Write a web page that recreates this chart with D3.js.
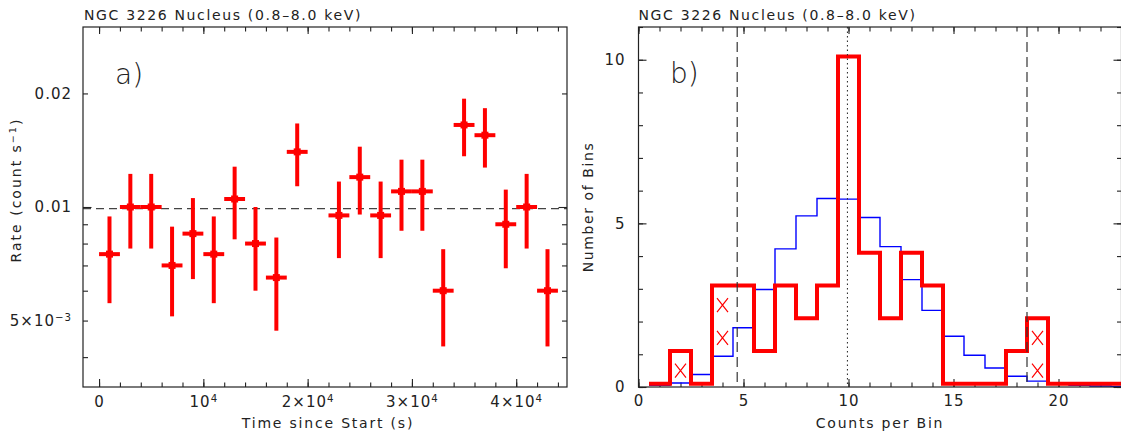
<!DOCTYPE html>
<html>
<head>
<meta charset="utf-8">
<script src="https://cdn.jsdelivr.net/npm/d3@7"></script>
<style>
  body { margin: 0; background: #fff; }
  svg text { font-family: "DejaVu Sans", sans-serif; fill: #222; }
</style>
</head>
<body>
<svg id="chart" width="1121" height="437"></svg>
<script>
// ---- data: light curve (2 ks bins) ----
const binTime = [1000, 3000, 5000, 7000, 9000, 11000, 13000, 15000, 17000, 19000,
                 23000, 25000, 27000, 29000, 31000, 33000, 35000, 37000, 39000, 41000, 43000];
const rate = [0.0075, 0.0100, 0.0100, 0.0070, 0.0085, 0.0075, 0.0105, 0.0080, 0.0065, 0.0140,
              0.0095, 0.0120, 0.0095, 0.0110, 0.0110, 0.0060, 0.0165, 0.0155, 0.0090, 0.0100, 0.0060];
const rateErr = [0.00194, 0.00224, 0.00224, 0.00187, 0.00206, 0.00194, 0.00229, 0.00200, 0.00180, 0.00265,
                 0.00218, 0.00245, 0.00218, 0.00235, 0.00235, 0.00173, 0.00287, 0.00278, 0.00212, 0.00224, 0.00173];
const binHalfWidth = 1000;
const meanRate = 0.0099;

// ---- data: histogram of counts per bin ----
const countsPerBin = [1, 2, 3, 4, 5, 6, 7, 8, 9, 10, 11, 12, 13, 14, 15, 16, 17, 18, 19, 20, 21, 22, 23];
const observedBins = [0.1, 1.1, 0.1, 3.1, 3.1, 1.1, 3.1, 2.1, 3.1, 10.1, 4.1, 2.1,
                      4.1, 3.1, 0.1, 0.1, 0.1, 1.1, 2.1, 0.1, 0.1, 0.1, 0.1];
const expectedBins = [0.05, 0.12, 0.38, 0.94, 1.81, 2.98, 4.22, 5.23, 5.76, 5.74, 5.18, 4.29,
                      3.28, 2.34, 1.55, 0.97, 0.58, 0.33, 0.18, 0.10, 0.05, 0.03, 0.02];
const flagCounts = [2, 4, 4, 19, 19];
const flagLevels = [0.5, 1.5, 2.5, 0.5, 1.5];
const limitLines = [4.7, 18.5];
const meanCounts = 9.95;

const titleText = "NGC 3226 Nucleus (0.8\u20138.0 keV)";

const svg = d3.select("#chart");
const plotTop = 27, plotBottom = 387;
const RED = "#ff0000", BLUE = "#0000ff", INK = "#222";

// superscript helper for tick labels
function supText(sel, base, sup) {
  sel.text(null);
  sel.append("tspan").text(base);
  if (sup) sel.append("tspan").attr("dy", "-0.5em").attr("font-size", "0.68em").text(sup);
}

function inwardTicks(g, axisFn, scale, values, size) {
  g.call(axisFn(scale).tickValues(values).tickSize(-size).tickFormat(""))
    .call(s => s.select(".domain").remove())
    .call(s => s.selectAll("line").attr("stroke", INK).attr("stroke-width", 1.1));
}

// ================= panel a =================
const xa = d3.scaleLinear().domain([-1540, 44870]).range([83, 567]);
const ya = d3.scaleLog().domain([1 / 300, 0.03]).range([plotBottom, plotTop]);

const pa = svg.append("g");
pa.append("clipPath").attr("id", "clipA").append("rect")
  .attr("x", 83).attr("y", plotTop).attr("width", 484).attr("height", plotBottom - plotTop);

// ticks
const xaMinor = d3.range(0, 44001, 2000);
const xaMajor = [0, 10000, 20000, 30000, 40000];
inwardTicks(pa.append("g").attr("transform", `translate(0,${plotBottom})`), d3.axisBottom, xa, xaMinor, 4.5);
inwardTicks(pa.append("g").attr("transform", `translate(0,${plotTop})`), d3.axisTop, xa, xaMinor, 4.5);
inwardTicks(pa.append("g").attr("transform", `translate(0,${plotTop})`), d3.axisTop, xa, xaMajor, 7);
const xaLab = pa.append("g").attr("transform", `translate(0,${plotBottom})`)
  .call(d3.axisBottom(xa).tickValues(xaMajor).tickSize(-8).tickPadding(9.5));
xaLab.select(".domain").remove();
xaLab.selectAll("line").attr("stroke", INK).attr("stroke-width", 1.1);
xaLab.selectAll("text").attr("font-size", 15).attr("letter-spacing", "1px").attr("fill", INK)
  .each(function (d) {
    const s = d3.select(this);
    if (d === 0) supText(s, "0");
    else if (d === 10000) supText(s, "10", "4");
    else supText(s, (d / 10000) + "\u00d710", "4");
  });

const yaMinor = [0.004, 0.005, 0.006, 0.007, 0.008, 0.009, 0.02];
inwardTicks(pa.append("g").attr("transform", "translate(83,0)"), d3.axisLeft, ya, yaMinor, 5);
inwardTicks(pa.append("g").attr("transform", "translate(567,0)"), d3.axisRight, ya, yaMinor, 5);
inwardTicks(pa.append("g").attr("transform", "translate(83,0)"), d3.axisLeft, ya, [0.01], 8.5);
inwardTicks(pa.append("g").attr("transform", "translate(567,0)"), d3.axisRight, ya, [0.01], 8.5);
const yaLab = pa.append("g").attr("transform", "translate(83,0)")
  .call(d3.axisLeft(ya).tickValues([0.005, 0.01, 0.02]).tickSize(0).tickPadding(11));
yaLab.select(".domain").remove();
yaLab.selectAll("text").attr("font-size", 15).attr("letter-spacing", "1px").attr("fill", INK)
  .each(function (d) {
    const s = d3.select(this);
    if (d === 0.005) supText(s, "5\u00d710", "\u22123");
    else supText(s, d === 0.01 ? "0.01" : "0.02");
  });

// mean line
pa.append("line")
  .attr("x1", 83).attr("x2", 567).attr("y1", ya(meanRate)).attr("y2", ya(meanRate))
  .attr("stroke", "#444").attr("stroke-width", 1.2).attr("stroke-dasharray", "8,5");

// error bars
const pts = pa.append("g").attr("clip-path", "url(#clipA)")
  .selectAll("g").data(binTime.map((t, i) => ({ t, r: rate[i], e: rateErr[i] })))
  .enter().append("g");
pts.append("line")
  .attr("x1", d => xa(d.t)).attr("x2", d => xa(d.t))
  .attr("y1", d => ya(d.r - d.e)).attr("y2", d => ya(d.r + d.e))
  .attr("stroke", RED).attr("stroke-width", 4);
pts.append("line")
  .attr("x1", d => xa(d.t - binHalfWidth)).attr("x2", d => xa(d.t + binHalfWidth))
  .attr("y1", d => ya(d.r)).attr("y2", d => ya(d.r))
  .attr("stroke", RED).attr("stroke-width", 4);
pts.append("rect")
  .attr("x", d => xa(d.t) - 3.5).attr("y", d => ya(d.r) - 3.5)
  .attr("width", 7).attr("height", 7).attr("fill", RED);

pa.append("rect").attr("x", 83).attr("y", plotTop).attr("width", 484).attr("height", plotBottom - plotTop)
  .attr("fill", "none").attr("stroke", INK).attr("stroke-width", 1.2);

pa.append("text").attr("x", 84).attr("y", 20).attr("font-size", 14).attr("letter-spacing", "1.65px")
  .text(titleText);
pa.append("text").attr("x", 115).attr("y", 84).attr("font-size", 28).attr("font-weight", 200)
  .text("a)");
pa.append("text").attr("x", 328).attr("y", 428).attr("font-size", 14).attr("letter-spacing", "1.8px")
  .attr("text-anchor", "middle").text("Time since Start (s)");
const yTitle = pa.append("text").attr("transform", "translate(21,190) rotate(-90)")
  .attr("font-size", 14).attr("letter-spacing", "2px").attr("text-anchor", "middle");
yTitle.append("tspan").text("Rate (count s");
yTitle.append("tspan").attr("dy", "-0.5em").attr("font-size", "0.68em").text("\u22121");
yTitle.append("tspan").attr("dy", "0.34em").text(")");

// ================= panel b =================
const L = 638.5, R = 1121.5;
const xb = d3.scaleLinear().domain([0, 23]).range([L, R]);
const yb = d3.scaleLinear().domain([0, 11]).range([plotBottom, plotTop]);

const pb = svg.append("g");
pb.append("clipPath").attr("id", "clipB").append("rect")
  .attr("x", L).attr("y", plotTop).attr("width", R - L).attr("height", plotBottom - plotTop);

const xbMinor = d3.range(0, 24, 1);
const xbMajor = [0, 5, 10, 15, 20];
inwardTicks(pb.append("g").attr("transform", `translate(0,${plotBottom})`), d3.axisBottom, xb, xbMinor, 4.5);
inwardTicks(pb.append("g").attr("transform", `translate(0,${plotTop})`), d3.axisTop, xb, xbMinor, 4.5);
inwardTicks(pb.append("g").attr("transform", `translate(0,${plotTop})`), d3.axisTop, xb, xbMajor, 7);
const xbLab = pb.append("g").attr("transform", `translate(0,${plotBottom})`)
  .call(d3.axisBottom(xb).tickValues(xbMajor).tickSize(-8).tickPadding(8.5));
xbLab.select(".domain").remove();
xbLab.selectAll("line").attr("stroke", INK).attr("stroke-width", 1.1);
xbLab.selectAll("text").attr("font-size", 15).attr("letter-spacing", "1px").attr("fill", INK);

const ybMinor = d3.range(0, 12, 1);
const ybMajor = [0, 5, 10];
inwardTicks(pb.append("g").attr("transform", `translate(${L},0)`), d3.axisLeft, yb, ybMinor, 4.5);
inwardTicks(pb.append("g").attr("transform", `translate(${R},0)`), d3.axisRight, yb, ybMinor, 4.5);
inwardTicks(pb.append("g").attr("transform", `translate(${R},0)`), d3.axisRight, yb, ybMajor, 8);
const ybLab = pb.append("g").attr("transform", `translate(${L},0)`)
  .call(d3.axisLeft(yb).tickValues(ybMajor).tickSize(-8).tickPadding(13));
ybLab.select(".domain").remove();
ybLab.selectAll("line").attr("stroke", INK).attr("stroke-width", 1.1);
ybLab.selectAll("text").attr("font-size", 15).attr("letter-spacing", "1px").attr("fill", INK);

const plotB = pb.append("g").attr("clip-path", "url(#clipB)");

// step outlines
function stepPoints(vals) {
  const p = countsPerBin.map((c, i) => [c - 0.5, vals[i]]);
  p.push([countsPerBin[countsPerBin.length - 1] + 0.5, vals[vals.length - 1]]);
  return p;
}
const step = d3.line().x(d => xb(d[0])).y(d => yb(d[1])).curve(d3.curveStepAfter);

plotB.append("path").attr("d", step(stepPoints(expectedBins)))
  .attr("fill", "none").attr("stroke", BLUE).attr("stroke-width", 1.4);
plotB.append("path").attr("d", step(stepPoints(observedBins)))
  .attr("fill", "none").attr("stroke", RED).attr("stroke-width", 4);

// limits and mean
plotB.selectAll(".lim").data(limitLines).enter().append("line")
  .attr("x1", d => xb(d)).attr("x2", d => xb(d)).attr("y1", plotTop).attr("y2", plotBottom)
  .attr("stroke", "#333").attr("stroke-width", 1.2).attr("stroke-dasharray", "10,5");
plotB.append("line")
  .attr("x1", xb(meanCounts)).attr("x2", xb(meanCounts)).attr("y1", plotTop).attr("y2", plotBottom)
  .attr("stroke", "#333").attr("stroke-width", 1.1).attr("stroke-dasharray", "1.5,3");

// flagged bins
const marks = plotB.selectAll(".flag").data(flagCounts.map((c, i) => [c, flagLevels[i]]))
  .enter().append("g").attr("transform", d => `translate(${xb(d[0])},${yb(d[1])})`);
marks.append("path").attr("d", "M-5.5,-7L5.5,7M5.5,-7L-5.5,7")
  .attr("stroke", RED).attr("stroke-width", 1.2).attr("fill", "none");

pb.append("rect").attr("x", L).attr("y", plotTop).attr("width", R - L).attr("height", plotBottom - plotTop)
  .attr("fill", "none").attr("stroke", INK).attr("stroke-width", 1.2);

pb.append("text").attr("x", L).attr("y", 20).attr("font-size", 14).attr("letter-spacing", "1.65px")
  .text(titleText);
pb.append("text").attr("x", 670).attr("y", 83).attr("font-size", 28).attr("font-weight", 200)
  .text("b)");
pb.append("text").attr("x", 880).attr("y", 428).attr("font-size", 14).attr("letter-spacing", "1.8px")
  .attr("text-anchor", "middle").text("Counts per Bin");
pb.append("text").attr("transform", "translate(593,207) rotate(-90)")
  .attr("font-size", 14).attr("letter-spacing", "1.6px").attr("text-anchor", "middle")
  .text("Number of Bins");
</script>
</body>
</html>
